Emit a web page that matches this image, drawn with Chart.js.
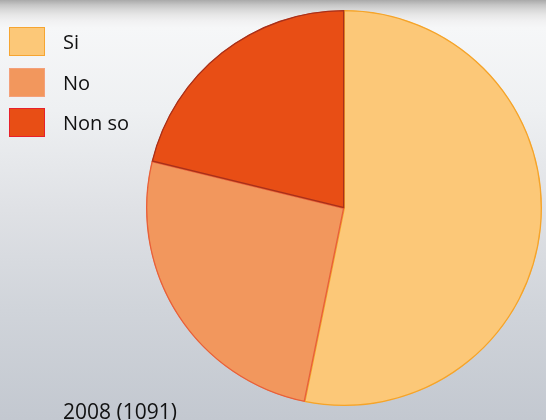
<!DOCTYPE html>
<html>
<head>
<meta charset="utf-8">
<script src="https://cdn.jsdelivr.net/npm/chart.js@4"></script>
<style>
  html, body { margin: 0; padding: 0; }
  body {
    width: 546px; height: 420px; overflow: hidden; position: relative;
    font-family: "Open Sans", "Noto Sans", sans-serif;
    background: linear-gradient(to bottom, #a9a9a9 0px, #c6c6c6 5px, #d9d9d9 10px, #e7e7e7 15px, #f1f1f2 21px, #f6f7f8 28px, #eef0f2 110px, #dfe1e5 210px, #d0d4da 310px, #c3c8d0 420px);
  }
  #wrap { position: absolute; left: 0; top: 0; width: 546px; height: 420px; }
  #legend { position: absolute; left: 0; top: 0; }
  .item { position: absolute; left: 9px; height: 28px; white-space: nowrap; }
  .box { position: absolute; left: 0; top: 0; width: 34px; height: 27px; border: 1px solid; }
  .lbl { position: absolute; left: 54px; top: 1px; line-height: 28px; font-size: 20px; color: #111; }
  #title { position: absolute; left: 63px; top: 397px; font-size: 21px; color: #111; white-space: nowrap; line-height: 28px; }
</style>
</head>
<body>
<div id="wrap"><canvas id="c" width="546" height="420"></canvas></div>
<div id="legend"></div>
<div id="title"></div>
<script>
const categories = ["Si", "No", "Non so"];
const values = [53.2, 25.6, 21.2];
const titleText = "2008 (1091)";
const fillColors = ["#fcc878", "#f2975d", "#e84e15"];
const sliceBorders = ["#f5a42a", "#e8603a", "#a8301a"];
const legendBorders = ["#f6a531", "#f4a07a", "#e8202a"];

const legend = document.getElementById("legend");
categories.forEach((name, i) => {
  const it = document.createElement("div");
  it.className = "item";
  it.style.top = (27 + i * 40.5) + "px";
  const b = document.createElement("div");
  b.className = "box";
  b.style.background = fillColors[i];
  b.style.borderColor = legendBorders[i];
  const t = document.createElement("div");
  t.className = "lbl";
  t.textContent = name;
  it.appendChild(b); it.appendChild(t);
  legend.appendChild(it);
});
document.getElementById("title").textContent = titleText;

new Chart(document.getElementById("c"), {
  type: "pie",
  data: {
    labels: categories,
    datasets: [{
      data: values,
      backgroundColor: fillColors,
      borderColor: sliceBorders,
      borderWidth: 1,
      borderAlign: "inner"
    }]
  },
  options: {
    responsive: false,
    animation: false,
    layout: { padding: { left: 145, right: 3, top: 10, bottom: 14 } },
    plugins: {
      legend: { display: false },
      title: { display: false },
      tooltip: { enabled: false }
    }
  }
});
</script>
</body>
</html>
